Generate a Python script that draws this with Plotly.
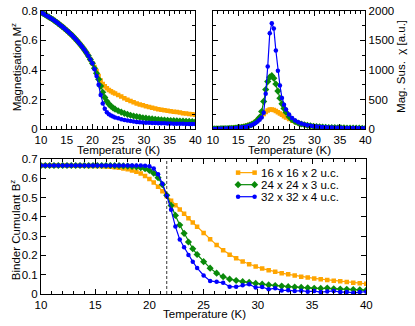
import plotly.graph_objects as go

# temperatures (K) shared by all three system sizes
temps = [10.0, 10.4, 10.8, 11.2, 11.6, 12.0, 12.4, 12.8, 13.2, 13.6, 14.0, 14.4, 14.8,
         15.2, 15.6, 16.0, 16.4, 16.8, 17.2, 17.6, 18.0, 18.4, 18.8, 19.2, 19.6, 20.0,
         20.4, 20.8, 21.2, 21.6, 22.0, 22.4, 22.8, 23.2, 23.6, 24.0, 24.4,
         25.0, 25.6, 26.2, 26.8, 27.4, 28.0, 28.6, 29.2, 29.8, 30.4, 31.0, 31.6, 32.2,
         32.8, 33.4, 34.0, 34.6, 35.2, 35.8, 36.4, 37.0, 37.6, 38.2, 38.8, 39.4, 40.0]

labels = ['16 x 16 x 2 u.c.', '24 x 24 x 3 u.c.', '32 x 32 x 4 u.c.']

mag_16 = [0.790, 0.782, 0.774, 0.765, 0.757, 0.748, 0.739, 0.729, 0.719, 0.708, 0.697, 0.686, 0.674,
          0.662, 0.649, 0.636, 0.622, 0.607, 0.591, 0.574, 0.557, 0.538, 0.518, 0.496, 0.472, 0.446,
          0.420, 0.393, 0.360, 0.330, 0.306, 0.290, 0.277, 0.266, 0.257, 0.249, 0.242,
          0.232, 0.221, 0.210, 0.200, 0.191, 0.183, 0.175, 0.168, 0.162, 0.156, 0.150, 0.145, 0.140,
          0.136, 0.132, 0.128, 0.125, 0.122, 0.119, 0.116, 0.113, 0.109, 0.106, 0.103, 0.101, 0.099]
mag_24 = [0.790, 0.782, 0.774, 0.765, 0.757, 0.748, 0.739, 0.729, 0.719, 0.708, 0.697, 0.686, 0.674,
          0.662, 0.649, 0.636, 0.622, 0.607, 0.591, 0.574, 0.557, 0.538, 0.518, 0.496, 0.472, 0.446,
          0.412, 0.378, 0.338, 0.292, 0.250, 0.215, 0.189, 0.170, 0.156, 0.145, 0.136,
          0.125, 0.116, 0.108, 0.101, 0.095, 0.090, 0.086, 0.082, 0.078, 0.075, 0.072, 0.070, 0.068,
          0.066, 0.064, 0.062, 0.061, 0.059, 0.058, 0.057, 0.056, 0.055, 0.054, 0.053, 0.052, 0.051]
mag_32 = [0.790, 0.782, 0.774, 0.765, 0.757, 0.748, 0.739, 0.729, 0.719, 0.708, 0.697, 0.686, 0.674,
          0.662, 0.649, 0.636, 0.622, 0.607, 0.591, 0.574, 0.557, 0.538, 0.518, 0.496, 0.472, 0.446,
          0.405, 0.360, 0.300, 0.232, 0.175, 0.138, 0.115, 0.102, 0.093, 0.086, 0.080,
          0.074, 0.068, 0.063, 0.059, 0.056, 0.053, 0.050, 0.048, 0.046, 0.045, 0.044, 0.043, 0.042,
          0.041, 0.040, 0.040, 0.039, 0.039, 0.038, 0.038, 0.037, 0.037, 0.036, 0.036, 0.036, 0.035]

chi_16 = [8, 9, 10, 11, 12, 13, 14, 16, 17, 19, 21, 24, 28,
          33, 39, 46, 55, 66, 78, 90, 105, 128, 155, 185, 220, 258,
          292, 318, 333, 335, 325, 308, 289, 268, 245, 222, 200,
          172, 146, 124, 105, 89, 76, 66, 57, 50, 44, 39, 35, 32,
          29, 27, 25, 23, 21, 20, 19, 18, 17, 16, 15, 15, 14]
chi_24 = [6, 7, 8, 9, 10, 11, 12, 13, 15, 16, 18, 21, 24,
          28, 32, 38, 45, 54, 65, 80, 98, 122, 155, 200, 300, 470,
          670, 805, 880, 905, 862, 765, 645, 525, 430, 352, 288,
          212, 163, 130, 106, 89, 76, 66, 58, 51, 46, 41, 37, 34,
          31, 29, 27, 25, 24, 23, 22, 21, 20, 19, 19, 18, 18]
chi_32 = [5, 6, 7, 8, 9, 10, 11, 12, 13, 15, 17, 19, 22,
          25, 29, 34, 40, 48, 58, 70, 86, 105, 130, 160, 200, 280,
          600, 1060, 1620, 1790, 1700, 1330, 990, 740, 530, 415, 335,
          250, 190, 148, 118, 96, 80, 68, 59, 52, 46, 41, 37, 34,
          31, 29, 27, 25, 24, 23, 22, 21, 20, 20, 19, 19, 18]

binder_16 = [0.667, 0.667, 0.667, 0.667, 0.667, 0.667, 0.667, 0.666, 0.666, 0.666, 0.666, 0.665, 0.665,
             0.664, 0.663, 0.662, 0.660, 0.658, 0.655, 0.652, 0.647, 0.641, 0.634, 0.625, 0.612, 0.597,
             0.579, 0.557, 0.533, 0.508, 0.484, 0.461, 0.438, 0.416, 0.393, 0.371, 0.349,
             0.316, 0.284, 0.254, 0.227, 0.204, 0.185, 0.169, 0.155, 0.143, 0.132, 0.123, 0.115, 0.108,
             0.102, 0.096, 0.090, 0.085, 0.081, 0.077, 0.073, 0.069, 0.066, 0.062, 0.059, 0.056, 0.053]
binder_24 = [0.667, 0.667, 0.667, 0.667, 0.667, 0.667, 0.667, 0.667, 0.667, 0.667, 0.667, 0.667, 0.667,
             0.667, 0.667, 0.667, 0.667, 0.666, 0.666, 0.665, 0.664, 0.662, 0.660, 0.656, 0.650, 0.641,
             0.627, 0.604, 0.568, 0.512, 0.460, 0.408, 0.358, 0.315, 0.270, 0.235, 0.205,
             0.168, 0.134, 0.108, 0.090, 0.077, 0.070, 0.064, 0.060, 0.055, 0.051, 0.047, 0.044, 0.041,
             0.038, 0.036, 0.034, 0.032, 0.030, 0.029, 0.031, 0.027, 0.026, 0.024, 0.023, 0.022, 0.020]
binder_32 = [0.667, 0.667, 0.667, 0.667, 0.667, 0.667, 0.667, 0.667, 0.667, 0.667, 0.667, 0.667, 0.667,
             0.667, 0.667, 0.667, 0.667, 0.667, 0.667, 0.667, 0.667, 0.667, 0.667, 0.667, 0.666, 0.663,
             0.652, 0.622, 0.572, 0.510, 0.437, 0.350, 0.283, 0.243, 0.203, 0.168, 0.135,
             0.096, 0.068, 0.064, 0.058, 0.038, 0.037, 0.045, 0.050, 0.034, 0.036, 0.024, 0.030, 0.018,
             0.020, 0.015, 0.017, 0.012, 0.015, 0.010, 0.013, 0.016, 0.010, 0.011, 0.006, 0.010, 0.012]

tc = 21.6  # crossing of the Binder cumulants

colors = ['#FFA500', '#0A8A0A', '#0000FF']
symbols = ['square', 'diamond', 'circle']
sizes = [4.5, 5.5, 4.5]

W, H = 415, 326
FONT = 'Liberation Sans, Arial, sans-serif'


def px_x(p):
    return p / W


def px_y(p):
    return 1 - p / H


fig = go.Figure()

panels = [
    ('x', 'y', [mag_16, mag_24, mag_32]),
    ('x2', 'y2', [chi_16, chi_24, chi_32]),
    ('x3', 'y3', [binder_16, binder_24, binder_32]),
]
for xa, ya, sets in panels:
    for i, vals in enumerate(sets):
        fig.add_trace(go.Scatter(
            x=temps, y=vals, xaxis=xa, yaxis=ya, mode='lines+markers',
            line=dict(color=colors[i], width=1.2),
            marker=dict(color=colors[i], symbol=symbols[i], size=sizes[i], line=dict(width=0)),
            showlegend=False, hoverinfo='skip',
        ))

# hand-made legend keys on a pixel-space helper axis (marker at both ends of the line)
leg_rows = [173, 185.5, 198]
for i, row in enumerate(leg_rows):
    fig.add_trace(go.Scatter(
        x=[239, 256], y=[row, row], xaxis='x4', yaxis='y4', mode='lines+markers',
        line=dict(color=colors[i], width=1.2),
        marker=dict(color=colors[i], symbol=symbols[i], size=sizes[i], line=dict(width=0)),
        showlegend=False, hoverinfo='skip', cliponaxis=False,
    ))

axis_common = dict(
    showline=True, linecolor='black', linewidth=1, mirror='allticks',
    ticks='inside', ticklen=5, tickcolor='black', tickwidth=1,
    showgrid=False, zeroline=False,
    tickfont=dict(family=FONT, size=11.5, color='black'),
)
minor_x = dict(dtick=1, ticklen=3, ticks='inside', tickcolor='black', showgrid=False)

fig.update_layout(
    width=W, height=H,
    margin=dict(l=0, r=0, t=0, b=0),
    paper_bgcolor='white', plot_bgcolor='rgba(0,0,0,0)',
    font=dict(family=FONT, size=11.5, color='black'),
    xaxis=dict(domain=[px_x(36), px_x(195)], anchor='y', range=[10, 40], dtick=5,
               minor=minor_x, **axis_common),
    yaxis=dict(domain=[px_y(128), px_y(5)], anchor='x', range=[0, 0.8], dtick=0.2,
               minor=dict(dtick=0.1, ticklen=3, ticks='inside', tickcolor='black'), **axis_common),
    xaxis2=dict(domain=[px_x(213), px_x(370)], anchor='y2', range=[10, 40], dtick=5,
                minor=minor_x, **axis_common),
    yaxis2=dict(domain=[px_y(128), px_y(5)], anchor='x2', range=[0, 2000], dtick=500, side='right',
                minor=dict(dtick=250, ticklen=3, ticks='inside', tickcolor='black'), **axis_common),
    xaxis3=dict(domain=[px_x(36), px_x(371)], anchor='y3', range=[10, 40], dtick=5,
                minor=minor_x, **axis_common),
    yaxis3=dict(domain=[px_y(299), px_y(159)], anchor='x3', range=[0, 0.7], dtick=0.1,
                **axis_common),
    xaxis4=dict(domain=[0, 1], anchor='y4', range=[0, W], visible=False, fixedrange=True),
    yaxis4=dict(domain=[0, 1], anchor='x4', range=[H, 0], visible=False, fixedrange=True),
)

fig.add_shape(type='line', xref='x3', yref='y3 domain', x0=tc, x1=tc, y0=0, y1=1,
              line=dict(color='black', width=0.8, dash='3px,2px'))

titles = [
    ('Magnetisation M<sup>z</sup>', 10, 64, -90),
    ('Mag. Sus.\u00a0\u00a0\u03c7 [a.u.]', 406, 63, -90),
    ('Temperature (K)', 116, 149, 0),
    ('Temperature (K)', 292, 149, 0),
    ('Binder Cumulant B<sup>z</sup>', 10, 232, -90),
    ('Temperature (K)', 204, 320, 0),
]
for text, x, y, ang in titles:
    fig.add_annotation(text=text, x=px_x(x), y=px_y(y), xref='paper', yref='paper',
                       showarrow=False, textangle=ang, xanchor='center', yanchor='middle',
                       font=dict(family=FONT, size=11.5, color='black'))

for lab, row in zip(labels, leg_rows):
    fig.add_annotation(text=lab, x=px_x(261), y=px_y(row), xref='paper', yref='paper',
                       showarrow=False, xanchor='left', yanchor='middle',
                       font=dict(family=FONT, size=11.5, color='black'))

# drop the browser's default 8px body margin so the figure sits at the page origin
fig.write_html('out.html', config={'displayModeBar': False},
               post_script="document.body.style.margin='0';")
